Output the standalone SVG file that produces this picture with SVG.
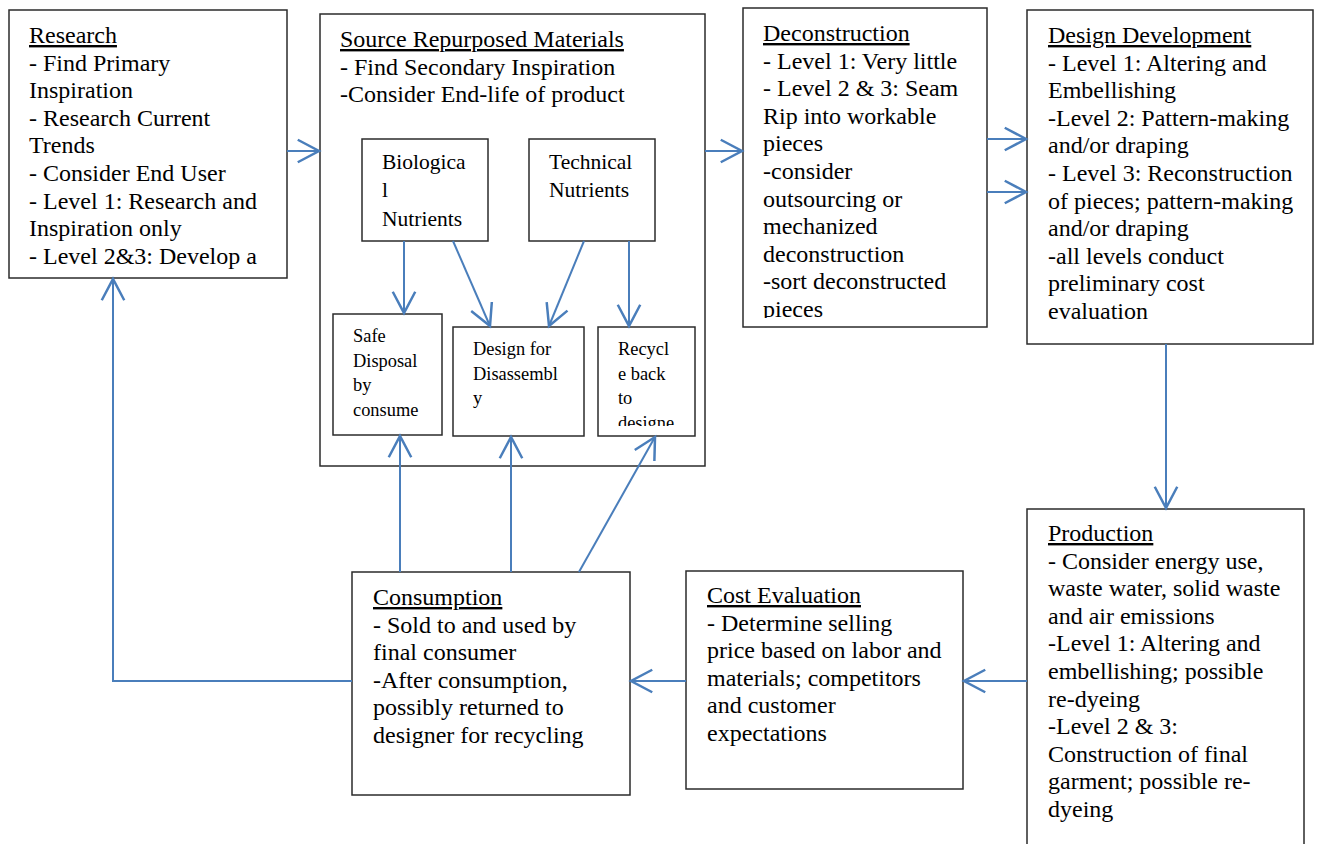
<svg xmlns="http://www.w3.org/2000/svg" width="1321" height="844" viewBox="0 0 1321 844">
<style>
.box{fill:#fff;stroke:#2b2b2b;stroke-width:1.5}
.t{font-family:"Liberation Serif","Times New Roman",serif;font-size:24px;fill:#000}
.t2{font-family:"Liberation Serif","Times New Roman",serif;font-size:21.5px;fill:#000}
.t3{font-family:"Liberation Serif","Times New Roman",serif;font-size:18.4px;fill:#000}
.u{text-decoration:underline}
.c{fill:none;stroke:#4a7ebb;stroke-width:2}
</style>
<defs>
<marker id="ah" markerUnits="userSpaceOnUse" markerWidth="30" markerHeight="30" refX="0" refY="0" viewBox="-20 -12 24 24" orient="auto" overflow="visible">
<path d="M-17,-9 L0,0 L-17,9" fill="none" stroke="#4a7ebb" stroke-width="2"/>
</marker>
<clipPath id="clipDecon"><rect x="743" y="8" width="244" height="310"/></clipPath>
<clipPath id="clipRecycle"><rect x="598" y="327" width="97" height="99"/></clipPath>
</defs>
<rect width="1321" height="844" fill="#fff"/>

<g id="research">
<rect class="box" x="9" y="10" width="278" height="268"/>
<text class="t" x="29"><tspan class="u" y="43">Research</tspan><tspan x="29" y="70.6">- Find Primary</tspan><tspan x="29" y="98.2">Inspiration</tspan><tspan x="29" y="125.8">- Research Current</tspan><tspan x="29" y="153.4">Trends</tspan><tspan x="29" y="181">- Consider End User</tspan><tspan x="29" y="208.6">- Level 1: Research and</tspan><tspan x="29" y="236.2">Inspiration only</tspan><tspan x="29" y="263.8">- Level 2&amp;3: Develop a</tspan></text>
</g>

<g id="source">
<rect class="box" x="320" y="14" width="385" height="452"/>
<text class="t" x="340"><tspan class="u" y="47">Source Repurposed Materials</tspan><tspan x="340" y="74.5">- Find Secondary Inspiration</tspan><tspan x="340" y="102">-Consider End-life of product</tspan></text>
</g>

<g id="biological">
<rect class="box" x="362" y="139" width="126" height="102"/>
<text class="t2" x="382"><tspan y="169">Biologica</tspan><tspan x="382" y="197">l</tspan><tspan x="382" y="225.5">Nutrients</tspan></text>
</g>

<g id="technical">
<rect class="box" x="529" y="139" width="126" height="102"/>
<text class="t2" x="549"><tspan y="169">Technical</tspan><tspan x="549" y="197">Nutrients</tspan></text>
</g>

<g id="safe">
<rect class="box" x="333" y="314" width="109" height="121"/>
<text class="t3" x="353"><tspan y="342">Safe</tspan><tspan x="353" y="366.5">Disposal</tspan><tspan x="353" y="391">by</tspan><tspan x="353" y="415.5">consume</tspan></text>
</g>

<g id="design-disassembly">
<rect class="box" x="453" y="327" width="131" height="109"/>
<text class="t3" x="473"><tspan y="355">Design for</tspan><tspan x="473" y="379.5">Disassembl</tspan><tspan x="473" y="404">y</tspan></text>
</g>

<g id="recycle">
<rect class="box" x="598" y="327" width="97" height="109"/>
<text class="t3" x="618" clip-path="url(#clipRecycle)"><tspan y="355">Recycl</tspan><tspan x="618" y="379.5">e back</tspan><tspan x="618" y="404">to</tspan><tspan x="618" y="428.5">designe</tspan></text>
</g>

<g id="deconstruction">
<rect class="box" x="743" y="8" width="244" height="319"/>
<text class="t" x="763" clip-path="url(#clipDecon)"><tspan class="u" y="41">Deconstruction</tspan><tspan x="763" y="68.6">- Level 1: Very little</tspan><tspan x="763" y="96.2">- Level 2 &amp; 3: Seam</tspan><tspan x="763" y="123.8">Rip into workable</tspan><tspan x="763" y="151.4">pieces</tspan><tspan x="763" y="179">-consider</tspan><tspan x="763" y="206.6">outsourcing or</tspan><tspan x="763" y="234.2">mechanized</tspan><tspan x="763" y="261.8">deconstruction</tspan><tspan x="763" y="289.4">-sort deconstructed</tspan><tspan x="763" y="317">pieces</tspan></text>
</g>

<g id="design-development">
<rect class="box" x="1027" y="10" width="286" height="334"/>
<text class="t" x="1048"><tspan class="u" y="43">Design Development</tspan><tspan x="1048" y="70.6">- Level 1: Altering and</tspan><tspan x="1048" y="98.2">Embellishing</tspan><tspan x="1048" y="125.8">-Level 2: Pattern-making</tspan><tspan x="1048" y="153.4">and/or draping</tspan><tspan x="1048" y="181">- Level 3: Reconstruction</tspan><tspan x="1048" y="208.6">of pieces; pattern-making</tspan><tspan x="1048" y="236.2">and/or draping</tspan><tspan x="1048" y="263.8">-all levels conduct</tspan><tspan x="1048" y="291.4">preliminary cost</tspan><tspan x="1048" y="319">evaluation</tspan></text>
</g>

<g id="production">
<rect class="box" x="1027" y="509" width="277" height="345"/>
<text class="t" x="1048"><tspan class="u" y="541">Production</tspan><tspan x="1048" y="568.6">- Consider energy use,</tspan><tspan x="1048" y="596.2">waste water, solid waste</tspan><tspan x="1048" y="623.8">and air emissions</tspan><tspan x="1048" y="651.4">-Level 1: Altering and</tspan><tspan x="1048" y="679">embellishing; possible</tspan><tspan x="1048" y="706.6">re-dyeing</tspan><tspan x="1048" y="734.2">-Level 2 &amp; 3:</tspan><tspan x="1048" y="761.8">Construction of final</tspan><tspan x="1048" y="789.4">garment; possible re-</tspan><tspan x="1048" y="817">dyeing</tspan></text>
</g>

<g id="cost-evaluation">
<rect class="box" x="686" y="571" width="277" height="218"/>
<text class="t" x="707"><tspan class="u" y="603">Cost Evaluation</tspan><tspan x="707" y="630.6">- Determine selling</tspan><tspan x="707" y="658.2">price based on labor and</tspan><tspan x="707" y="685.8">materials; competitors</tspan><tspan x="707" y="713.4">and customer</tspan><tspan x="707" y="741">expectations</tspan></text>
</g>

<g id="consumption">
<rect class="box" x="352" y="572" width="278" height="223"/>
<text class="t" x="373"><tspan class="u" y="605">Consumption</tspan><tspan x="373" y="632.6">- Sold to and used by</tspan><tspan x="373" y="660.2">final consumer</tspan><tspan x="373" y="687.8">-After consumption,</tspan><tspan x="373" y="715.4">possibly returned to</tspan><tspan x="373" y="743">designer for recycling</tspan></text>
</g>

<g id="connectors">
<path class="c" d="M287,151 L319,151" marker-end="url(#ah)"/>
<path class="c" d="M705,151 L742,151" marker-end="url(#ah)"/>
<path class="c" d="M987,139 L1026,139" marker-end="url(#ah)"/>
<path class="c" d="M987,192 L1026,192" marker-end="url(#ah)"/>
<path class="c" d="M1166,344 L1166,508" marker-end="url(#ah)"/>
<path class="c" d="M1027,681 L964,681" marker-end="url(#ah)"/>
<path class="c" d="M686,681 L631,681" marker-end="url(#ah)"/>
<path class="c" d="M352,681 L113,681 L113,279" marker-end="url(#ah)"/>
<path class="c" d="M404,241 L404,313" marker-end="url(#ah)"/>
<path class="c" d="M453,241 L490,326" marker-end="url(#ah)"/>
<path class="c" d="M584,241 L549,326" marker-end="url(#ah)"/>
<path class="c" d="M629,241 L629,326" marker-end="url(#ah)"/>
<path class="c" d="M400,572 L400,436" marker-end="url(#ah)"/>
<path class="c" d="M511,572 L511,437" marker-end="url(#ah)"/>
<path class="c" d="M579,572 L655,437" marker-end="url(#ah)"/>
</g>
</svg>
